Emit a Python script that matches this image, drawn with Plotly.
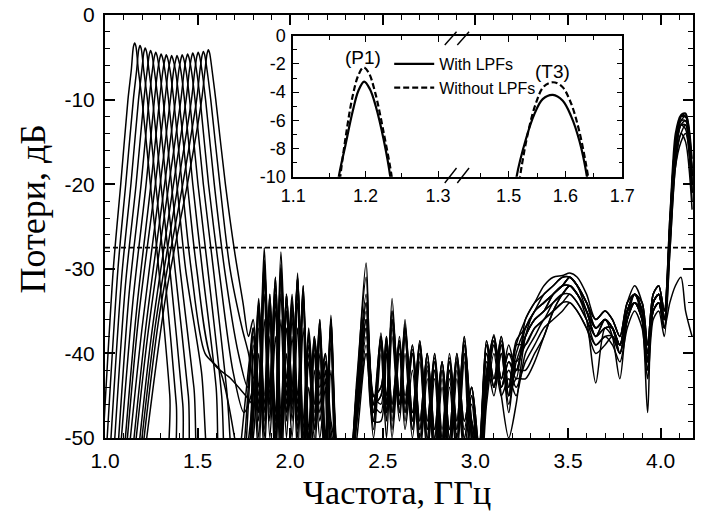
import plotly.graph_objects as go

# ---------------------------------------------------------------- data ----
# Passband (tunable filter) responses, 15 tuning states: frequency (GHz) and loss (dB)
PASSBAND_GHZ = [
    [0.97, 1.045, 1.085, 1.124, 1.142, 1.153, 1.160, 1.167, 1.180, 1.200, 1.245, 1.290, 1.350, 1.380, 1.720],
    [0.99, 1.070, 1.112, 1.153, 1.171, 1.182, 1.189, 1.196, 1.209, 1.229, 1.274, 1.320, 1.385, 1.420, 1.720],
    [1.01, 1.090, 1.140, 1.181, 1.199, 1.210, 1.217, 1.224, 1.237, 1.257, 1.302, 1.350, 1.420, 1.460, 1.740],
    [1.03, 1.110, 1.168, 1.210, 1.228, 1.239, 1.246, 1.253, 1.266, 1.286, 1.331, 1.378, 1.450, 1.500, 1.740],
    [1.05, 1.130, 1.195, 1.238, 1.256, 1.267, 1.274, 1.281, 1.294, 1.314, 1.359, 1.405, 1.480, 1.540, 1.730],
    [1.06, 1.150, 1.222, 1.267, 1.285, 1.296, 1.303, 1.310, 1.323, 1.343, 1.388, 1.435, 1.520, 1.600, 1.720],
    [1.08, 1.170, 1.248, 1.295, 1.313, 1.324, 1.331, 1.338, 1.351, 1.371, 1.416, 1.465, 1.540, 1.620, 1.700, 1.740],
    [1.09, 1.180, 1.272, 1.324, 1.342, 1.353, 1.360, 1.367, 1.380, 1.400, 1.445, 1.495, 1.580, 1.680, 1.760],
    [1.10, 1.200, 1.298, 1.353, 1.371, 1.382, 1.389, 1.396, 1.409, 1.429, 1.474, 1.525, 1.600, 1.640, 1.700],
    [1.12, 1.220, 1.322, 1.381, 1.399, 1.410, 1.417, 1.424, 1.437, 1.457, 1.502, 1.555, 1.630, 1.670, 1.710],
    [1.13, 1.230, 1.345, 1.410, 1.428, 1.439, 1.446, 1.453, 1.466, 1.486, 1.531, 1.585, 1.660, 1.700],
    [1.15, 1.250, 1.370, 1.438, 1.456, 1.467, 1.474, 1.481, 1.494, 1.514, 1.559, 1.615, 1.690, 1.750],
    [1.16, 1.270, 1.395, 1.467, 1.485, 1.496, 1.503, 1.510, 1.523, 1.543, 1.590, 1.645, 1.720, 1.770],
    [1.17, 1.290, 1.420, 1.495, 1.513, 1.524, 1.531, 1.538, 1.551, 1.571, 1.620, 1.675, 1.740, 1.775],
    [1.18, 1.330, 1.445, 1.522, 1.540, 1.551, 1.558, 1.565, 1.578, 1.598, 1.650, 1.700, 1.745, 1.775],
]
PASSBAND_DB = [
    [-58, -30, -20, -10, -6.5, -3.8, -3.3, -3.7, -6.5, -10, -20, -30, -45, -58, -58],
    [-58, -30, -20, -10, -6.5, -4.1, -3.6, -4.0, -6.5, -10, -20, -30, -46, -58, -58],
    [-58, -31, -20, -10, -6.5, -4.4, -3.9, -4.3, -6.5, -10, -20, -30, -46, -58, -58],
    [-58, -32, -20, -10, -6.5, -4.7, -4.2, -4.6, -6.5, -10, -20, -30, -45, -58, -58],
    [-58, -33, -20, -10, -6.5, -4.9, -4.4, -4.8, -6.5, -10, -20, -30, -44, -58, -58],
    [-58, -34, -20, -10, -6.5, -5.1, -4.6, -5.0, -6.5, -10, -20, -30, -42, -58, -58],
    [-58, -35, -20, -10, -6.5, -5.2, -4.7, -5.1, -6.5, -10, -20, -30, -40, -42, -50, -56],
    [-58, -36, -20, -10, -6.5, -5.3, -4.8, -5.2, -6.5, -10, -20, -30, -41, -43, -45],
    [-58, -37, -20, -10, -6.5, -5.3, -4.8, -5.2, -6.5, -10, -20, -30, -44, -58, -58],
    [-58, -37, -20, -10, -6.5, -5.2, -4.7, -5.1, -6.5, -10, -20, -30, -45, -58, -58],
    [-58, -38, -20, -10, -6.5, -5.1, -4.6, -5.0, -6.5, -10, -20, -30, -45, -56],
    [-58, -38, -20, -10, -6.5, -5.0, -4.5, -4.9, -6.5, -10, -20, -30, -42, -47],
    [-58, -37, -20, -10, -6.5, -4.9, -4.4, -4.8, -6.5, -10, -20, -30, -40, -44],
    [-58, -36, -20, -10, -6.5, -4.8, -4.3, -4.7, -6.5, -10, -20, -30, -37, -40],
    [-58, -33, -20, -10, -6.5, -4.6, -4.1, -4.5, -6.5, -10, -20, -28, -34, -38],
]

# Out-of-band (spurious) region, common frequency grid (GHz)
SPUR_GHZ = [
    1.80, 1.83, 1.86, 1.89, 1.92, 1.95, 1.98, 2.01, 2.04, 2.07,
    2.10, 2.13, 2.16, 2.19, 2.22, 2.26, 2.31, 2.36, 2.41, 2.45,
    2.49, 2.52, 2.55, 2.59, 2.62, 2.66, 2.70, 2.74, 2.78, 2.82,
    2.86, 2.90, 2.94, 2.98, 3.02, 3.06, 3.10, 3.14, 3.18, 3.22,
    3.27, 3.32, 3.37, 3.42, 3.47, 3.51, 3.55, 3.60, 3.65, 3.70,
    3.74, 3.78, 3.82, 3.86, 3.90, 3.93, 3.96, 3.99, 4.02, 4.05,
    4.08, 4.11, 4.135, 4.17,
]
# loss (dB) of each tuning state on SPUR_GHZ
SPUR_DB = [
    [-44, -52, -36, -50, -38, -55, -40, -50, -37, -54, -44, -52, -42, -56, -42,
     -56, -58, -50, -40, -50,
     -40, -50, -38, -48, -40, -50, -41, -52, -43, -54, -44, -52, -41, -54, -56, -46, -40, -45, -43, -45,
     -40, -38, -36, -35, -34, -33, -34, -36, -39, -38, -39, -41, -37, -35, -37, -43, -36, -35, -38, -28,
     -18, -15, -14, -21],
    [-50, -40, -52, -38, -54, -36, -50, -38, -52, -37, -55, -42, -50, -44, -55,
     -55, -57, -46, -36, -48,
     -48, -40, -50, -40, -49, -42, -52, -43, -53, -44, -53, -43, -52, -48, -55, -41, -45, -40, -46, -41,
     -38, -36, -35, -33, -32, -31, -32, -35, -38, -36, -37, -40, -36, -33, -35, -41, -35, -34, -37, -26,
     -16, -13, -12.5, -20],
    [-40, -50, -33, -48, -35, -52, -37, -48, -34, -53, -41, -50, -40, -55, -39,
     -54, -57, -47, -37, -47,
     -39, -48, -33.5, -47, -38, -49, -40, -51, -42, -53, -43, -51, -40, -52, -55, -45, -39, -44, -42, -44,
     -41, -39, -37, -36, -35, -34, -35, -37, -40, -39, -38, -39, -35, -34, -36, -40, -34, -33, -36, -27,
     -17, -14, -13, -22],
    [-48, -37, -50, -36, -52, -33, -48, -36, -50, -34, -54, -40, -48, -43, -53,
     -53, -56, -44, -29.3, -46,
     -47, -39, -49, -39, -48, -40, -51, -42, -52, -43, -52, -42, -51, -46, -54, -40, -44, -39, -45, -40,
     -37, -35, -33, -32, -31, -31, -32, -34, -36, -35, -36, -38, -34, -33, -34, -39, -33, -32, -35, -25,
     -15, -12.5, -12, -19],
    [-39, -48, -31, -47, -33, -51, -35, -47, -32, -52, -39, -49, -38, -54, -37,
     -55, -57, -46, -34, -48,
     -38, -47, -36, -46, -37, -48, -39, -50, -41, -52, -42, -50, -39, -50, -54, -44, -38.5, -44, -41, -43,
     -36, -34, -32, -31, -30.8, -30.5, -31, -33, -36, -35, -36, -38, -34, -32, -34, -39, -33, -32, -35, -24,
     -15, -12, -11.7, -18],
    [-47, -35, -49, -35, -51, -31, -47, -35, -49, -33, -53, -39, -47, -42, -52,
     -52, -56, -43, -31, -45,
     -46, -38.5, -48, -38.5, -47, -39.5, -50, -41.5, -51, -42, -51, -41, -50, -45, -53, -39, -44, -38.5, -45, -39,
     -39, -37, -36, -34, -33, -33, -34, -36, -38, -37, -37, -39, -35, -33, -35, -40, -34, -33, -36, -26,
     -16, -12.5, -12.5, -20],
    [-38, -47, -30, -46, -33, -50, -34, -46, -31, -51, -38, -48, -37, -53, -36,
     -54, -56, -47, -38, -47,
     -37.6, -46, -36, -46, -36, -48, -38.5, -49, -40, -51, -41, -49, -38, -49, -53, -43, -38, -43, -40, -42,
     -38, -36, -35, -34, -33, -32, -33, -36, -43.5, -37, -37, -40, -35, -33, -35, -41, -34, -33, -36, -27,
     -17, -13, -13, -21],
    [-46, -34, -48, -34, -50, -30, -46, -34, -48, -32.5, -52, -38.5, -46, -41, -51,
     -53, -56, -45, -35, -46,
     -45, -38, -47, -38, -46, -39, -49, -40, -50, -41, -50, -40.5, -49, -44, -52, -38.5, -43, -38, -44, -38.5,
     -37, -35, -34, -33, -32, -32, -33, -35, -37, -36, -37, -39, -35, -33, -35, -40, -34, -33, -36, -25,
     -16, -12, -12, -19],
    [-37, -46, -29, -45, -32, -49, -33, -45, -30.5, -50, -37.5, -47, -36, -52, -35.5,
     -54, -57, -48, -39, -49,
     -38, -46, -35, -45, -37, -47, -39, -48, -40.5, -50, -40, -48, -38.5, -48, -52, -43, -37.8, -43, -39, -42,
     -38, -36, -35, -33, -32, -31, -32, -34, -37, -36, -38, -43, -36, -34, -35, -41, -34, -33, -36, -26,
     -17, -13, -13.5, -21],
    [-45, -34, -47, -33, -49, -29.5, -45, -33.5, -47, -32, -51, -38, -45, -40, -50,
     -52, -56, -44, -33, -45,
     -44, -39, -46, -39, -45, -40, -48, -40, -49, -41, -49, -40, -48, -44, -51, -40, -44, -40, -47, -42,
     -42, -40, -38, -35, -33, -32, -33, -35, -38, -36, -37, -39, -35, -34, -35, -40, -35, -34, -37, -34,
     -32, -31, -35, -38],
    [-38, -47, -31, -46, -34, -50, -35, -46, -33, -52, -40, -49, -38, -54, -38,
     -54, -57, -47, -36, -47,
     -39, -47, -37, -47, -38, -49, -40, -50, -42, -51, -42, -50, -40, -50, -53, -44, -39, -45, -50, -46,
     -38, -35, -34, -33, -32, -32, -33, -35, -38, -37, -38, -40, -36, -34, -36, -42, -35, -34, -37, -28,
     -18, -14, -15, -23],
    [-44, -35, -46, -34, -48, -30, -44, -34, -46, -33, -50, -39, -44, -41, -49,
     -53, -55, -45, -37, -46,
     -45, -39, -47, -39, -47, -40, -49, -41, -50, -42, -50, -41, -50, -45, -52, -39, -44, -39, -45, -43,
     -43, -41, -38, -35, -33, -32, -33, -35, -37, -36, -37, -39, -35, -33, -35, -40, -34, -33, -36, -26,
     -16, -12, -12, -19],
    [-37, -45, -29, -44, -31, -48, -33, -44, -31, -49, -38, -46, -37, -51, -37,
     -54, -57, -48, -40, -48,
     -38.5, -46, -36, -46, -37, -48, -39, -49, -41, -50, -41, -49, -39, -49, -52, -43, -38.5, -44, -41, -42,
     -37, -35, -34, -33, -32, -31, -32, -34, -37, -36, -37, -39, -35, -33, -36, -47, -34, -33, -36, -25,
     -15, -12, -12, -20],
    [-43, -33.5, -45, -33, -47, -28, -43, -33, -45, -32, -49, -38, -43, -40, -48,
     -52, -55, -44, -34, -45,
     -44, -38, -46, -38.5, -46, -39, -48, -40, -49, -41, -49, -40, -48, -44, -51, -38.5, -43, -38, -44, -39,
     -36, -34, -33, -32, -31, -31, -32, -34, -36, -35, -36, -38, -34, -33, -34, -39, -33, -32, -35, -24,
     -14, -11.8, -11.6, -17],
    [-36, -44, -27.5, -44, -31, -47, -33, -44, -31, -48, -37, -46, -36, -50, -36,
     -53, -56, -46, -36, -46,
     -38, -45, -35, -45, -36.5, -47, -38.5, -48, -40, -49, -40.5, -48, -38, -48, -51, -42, -38, -43, -40, -41,
     -39, -37, -36, -35, -34, -34, -35, -37, -39, -38, -38, -40, -36, -34, -36, -41, -35, -34, -37, -25,
     -15, -12, -12, -19],
]

THRESHOLD_DB = -27.5

# Inset: (P1) and (T3) passbands, with and without low-pass filters
P1_WITH_GHZ = [1.160, 1.163, 1.172, 1.182, 1.190, 1.198, 1.206, 1.214, 1.225, 1.234, 1.237]
P1_WITH_DB = [-11.5, -10.0, -7.8, -5.4, -3.9, -3.25, -3.8, -5.0, -7.4, -10.0, -11.5]
P1_WITHOUT_GHZ = [1.162, 1.165, 1.173, 1.182, 1.190, 1.197, 1.204, 1.213, 1.225, 1.236, 1.239]
P1_WITHOUT_DB = [-11.5, -10.0, -7.0, -4.3, -2.8, -2.25, -2.6, -4.0, -6.9, -10.0, -11.5]
T3_WITH_GHZ = [1.511, 1.514, 1.530, 1.545, 1.560, 1.578, 1.595, 1.610, 1.625, 1.638, 1.641]
T3_WITH_DB = [-11.0, -10.0, -7.4, -5.6, -4.5, -4.2, -4.6, -5.7, -7.5, -10.0, -11.0]
T3_WITHOUT_GHZ = [1.517, 1.520, 1.534, 1.548, 1.562, 1.578, 1.594, 1.609, 1.624, 1.640, 1.643]
T3_WITHOUT_DB = [-11.0, -10.0, -6.9, -4.8, -3.6, -3.3, -3.6, -4.7, -6.7, -10.0, -11.0]

MAIN_X_TICKS = [1.0, 1.5, 2.0, 2.5, 3.0, 3.5, 4.0]
MAIN_Y_TICKS = [0, -10, -20, -30, -40, -50]
INSET_Y_TICKS = [0, -2, -4, -6, -8, -10]

# -------------------------------------------------------------- layout ----
FIG_W, FIG_H = 706, 513
M_L, M_R, M_T, M_B = 105, 1, 15, 75
PLOT_W = FIG_W - M_L - M_R
PLOT_H = FIG_H - M_T - M_B


def px_x(px):
    return (px - M_L) / PLOT_W


def px_y(py):
    return 1 - (py - M_T) / PLOT_H


SANS = "Liberation Sans, Arial, sans-serif"
SERIF = "Liberation Serif, Times New Roman, serif"

fig = go.Figure()

for f_pass, db_pass, db_spur in zip(PASSBAND_GHZ, PASSBAND_DB, SPUR_DB):
    fig.add_trace(go.Scatter(
        x=f_pass + SPUR_GHZ, y=db_pass + db_spur, mode="lines",
        line=dict(color="black", width=1.5, shape="spline", smoothing=0.8),
        showlegend=False, hoverinfo="skip", xaxis="x", yaxis="y",
    ))

inset_solid = dict(color="black", width=2.2, shape="spline", smoothing=1.0)
inset_dash = dict(color="black", width=2.2, dash="6px,3px", shape="spline", smoothing=1.0)

fig.add_trace(go.Scatter(x=P1_WITH_GHZ, y=P1_WITH_DB, mode="lines", name="With LPFs",
                         line=inset_solid, xaxis="x2", yaxis="y2"))
fig.add_trace(go.Scatter(x=P1_WITHOUT_GHZ, y=P1_WITHOUT_DB, mode="lines", name="Without LPFs",
                         line=inset_dash, xaxis="x2", yaxis="y2"))
fig.add_trace(go.Scatter(x=T3_WITH_GHZ, y=T3_WITH_DB, mode="lines", showlegend=False,
                         line=inset_solid, xaxis="x3", yaxis="y3"))
fig.add_trace(go.Scatter(x=T3_WITHOUT_GHZ, y=T3_WITHOUT_DB, mode="lines", showlegend=False,
                         line=inset_dash, xaxis="x3", yaxis="y3"))

axis_common = dict(showline=True, linecolor="black", showgrid=False, zeroline=False,
                   ticks="inside", tickcolor="black")

fig.update_layout(
    width=FIG_W, height=FIG_H,
    margin=dict(l=M_L, r=M_R, t=M_T, b=M_B),
    paper_bgcolor="white", plot_bgcolor="rgba(0,0,0,0)",
    font=dict(family=SANS, color="black"),
    xaxis=dict(**axis_common, domain=[0, 1], range=[1.0, 4.175], linewidth=2, mirror="allticks",
               tickmode="array", tickvals=MAIN_X_TICKS, ticktext=[f"{v:.1f}" for v in MAIN_X_TICKS],
               ticklen=10, tickwidth=1.5, tickfont=dict(size=21, family=SANS), ticklabelstandoff=3,
               minor=dict(dtick=0.1, tick0=1.0, ticks="inside", ticklen=5, tickwidth=1.2,
                          tickcolor="black", showgrid=False)),
    yaxis=dict(**axis_common, domain=[0, 1], range=[-50, 0], linewidth=2, mirror="allticks",
               tickmode="array", tickvals=MAIN_Y_TICKS, ticktext=[str(v) for v in MAIN_Y_TICKS],
               ticklen=10, tickwidth=1.5, tickfont=dict(size=21, family=SANS), ticklabelstandoff=4,
               minor=dict(dtick=2, tick0=0, ticks="inside", ticklen=5, tickwidth=1.2,
                          tickcolor="black", showgrid=False)),
    xaxis2=dict(**axis_common, domain=[px_x(297), px_x(463)], anchor="y2", range=[1.1, 1.3245],
                linewidth=1.6, mirror="allticks", tick0=1.1, dtick=0.1, tickformat=".1f",
                ticklen=6, tickwidth=1.3, tickfont=dict(size=18, family=SANS), ticklabelstandoff=2,
                minor=dict(dtick=0.05, tick0=1.1, ticks="inside", ticklen=4, tickwidth=1.1,
                           tickcolor="black", showgrid=False)),
    xaxis3=dict(**axis_common, domain=[px_x(463), px_x(633)], anchor="y3", range=[1.407, 1.7005],
                linewidth=1.6, mirror="allticks", tick0=1.5, dtick=0.1, tickformat=".1f",
                ticklen=6, tickwidth=1.3, tickfont=dict(size=18, family=SANS), ticklabelstandoff=2,
                minor=dict(dtick=0.05, tick0=1.45, ticks="inside", ticklen=4, tickwidth=1.1,
                           tickcolor="black", showgrid=False)),
    yaxis2=dict(**axis_common, domain=[px_y(176.7), px_y(35.7)], anchor="x2", range=[-10, 0],
                linewidth=1.6, mirror=False, tickmode="array", tickvals=INSET_Y_TICKS,
                ticktext=[str(v) for v in INSET_Y_TICKS], ticklen=6, tickwidth=1.3,
                tickfont=dict(size=18, family=SANS), ticklabelstandoff=2,
                minor=dict(dtick=1, tick0=0, ticks="inside", ticklen=4, tickwidth=1.1,
                           tickcolor="black", showgrid=False)),
    yaxis3=dict(**axis_common, domain=[px_y(176.7), px_y(35.7)], anchor="x3", side="right",
                range=[-10, 0], linewidth=1.6, mirror=False, dtick=2, ticklen=6, tickwidth=1.3,
                showticklabels=False,
                minor=dict(dtick=1, tick0=0, ticks="inside", ticklen=4, tickwidth=1.1,
                           tickcolor="black", showgrid=False)),
    legend=dict(x=px_x(395), y=px_y(47), xanchor="left", yanchor="top",
                font=dict(size=16, family=SANS), bgcolor="rgba(0,0,0,0)",
                itemwidth=40, tracegroupgap=0),
)

# threshold level
fig.add_shape(type="line", xref="x domain", yref="y", x0=0, x1=1,
              y0=THRESHOLD_DB, y1=THRESHOLD_DB,
              line=dict(color="black", width=1.8, dash="5px,3px"))

# axis-break marks on the inset frame
for top, bottom in [(45, 31.7), (183, 168)]:
    for x_start in (451.7, 464.5):
        fig.add_shape(type="line", xref="paper", yref="paper",
                      x0=px_x(x_start), y0=px_y(top), x1=px_x(x_start + 12), y1=px_y(bottom),
                      line=dict(color="black", width=1.4))

fig.add_annotation(text="(P1)", xref="x2", yref="y2", x=1.197, y=-1.55, showarrow=False,
                   font=dict(size=19, family=SANS))
fig.add_annotation(text="(T3)", xref="x3", yref="y3", x=1.578, y=-2.57, showarrow=False,
                   font=dict(size=19, family=SANS))

fig.add_annotation(text="Потери, дБ", xref="paper", yref="paper", x=px_x(32), y=px_y(208),
                   textangle=-90, showarrow=False, xanchor="center", yanchor="middle",
                   font=dict(size=36, family=SERIF))
fig.add_annotation(text="Частота, ГГц", xref="paper", yref="paper", x=px_x(403), y=px_y(492),
                   showarrow=False, xanchor="center", yanchor="middle",
                   font=dict(size=34, family=SERIF))

fig.write_html("out.html")
